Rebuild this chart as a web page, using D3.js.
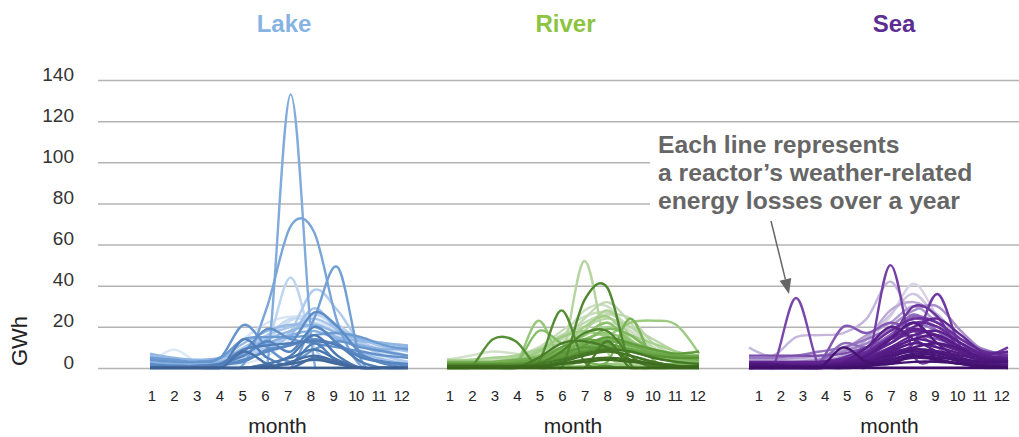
<!DOCTYPE html>
<html>
<head>
<meta charset="utf-8">
<script src="https://cdn.jsdelivr.net/npm/d3@7"></script>
<style>
  body { margin: 0; background: #fff; }
  svg { display: block; font-family: "Liberation Sans", Arial, Helvetica, sans-serif; }
</style>
</head>
<body>
<svg id="chart" width="1019" height="437"></svg>
<script>
// ---- data: monthly weather-related energy losses (GWh), one row per reactor ----
const months = [1, 2, 3, 4, 5, 6, 7, 8, 9, 10, 11, 12];
const yTicks = [0, 20, 40, 60, 80, 100, 120, 140];
const panelNames = ["Lake", "River", "Sea"];
const axisTitleX = "month";
const axisTitleY = "GWh";
const noteLines = ["Each line represents", "a reactor’s weather-related", "energy losses over a year"];

// reactors cooled by lake water (ordered light to dark)
const lakeSeries = [
  [2, 9, 3, 1, 2, 6, 14, 22, 16, 9, 5, 3],
  [1, 1, 2, 4, 14, 22, 25, 24, 18, 11, 7, 5],
  [0, 0, 1, 2, 6, 14, 23, 26, 20, 12, 6, 3],
  [3, 2, 2, 3, 8, 16, 24, 22, 17, 12, 9, 6],
  [0, 0, 0, 1, 5, 12, 44, 10, 2, 0, 0, 0],
  [4, 3, 2, 3, 6, 11, 17, 26, 21, 13, 8, 5],
  [1, 1, 1, 2, 5, 10, 18, 38, 28, 12, 6, 3],
  [5, 3, 2, 4, 10, 16, 20, 24, 19, 14, 10, 8],
  [2, 1, 1, 2, 4, 9, 16, 29, 18, 8, 4, 2],
  [6, 4, 3, 5, 12, 18, 21, 20, 15, 13, 12, 10],
  [7, 5, 4, 5, 9, 14, 18, 21, 17, 14, 12, 11],
  [3, 2, 2, 3, 7, 12, 16, 18, 14, 11, 9, 10],
  [0, 0, 0, 0, 0, 2, 133, 3, 0, 0, 0, 0],
  [0, 0, 0, 0, 2, 30, 69, 66, 22, 1, 0, 0],
  [0, 0, 0, 0, 0, 0, 0, 24, 49, 4, 0, 0],
  [5, 4, 3, 5, 14, 15, 15, 16, 17, 15, 11, 9],
  [4, 3, 3, 5, 21, 10, 3, 9, 13, 10, 8, 6],
  [1, 1, 1, 2, 8, 19, 14, 12, 10, 8, 6, 5],
  [2, 1, 1, 2, 3, 9, 12, 27, 20, 7, 3, 1],
  [0, 0, 0, 1, 4, 8, 11, 14, 11, 6, 2, 0],
  [1, 1, 1, 2, 6, 13, 8, 20, 12, 5, 3, 2],
  [0, 0, 0, 0, 14, 5, 2, 12, 3, 0, 0, 0],
  [0, 0, 0, 2, 9, 11, 12, 13, 11, 3, 0, 0],
  [0, 0, 0, 0, 0, 2, 6, 16, 6, 0, 0, 0],
  [0, 0, 0, 0, 0, 2, 5, 9, 4, 0, 0, 0],
  [0, 0, 0, 0, 8, 2, 0, 5, 2, 0, 0, 0],
  [0, 0, 0, 0, 0, 0, 3, 6, 3, 0, 0, 0],
  [0, 0, 0, 0, 0, 1, 2, 4, 2, 0, 0, 0],
  [0, 0, 0, 0, 0, 0, 0, 0, 0, 0, 0, 0],
  [0, 0, 0, 0, 0, 0, 0, 0, 0, 0, 0, 0]
];

// reactors cooled by river water (ordered light to dark)
const riverSeries = [
  [4, 6, 8, 7, 6, 10, 16, 22, 18, 10, 6, 4],
  [2, 2, 3, 4, 8, 15, 28, 30, 18, 8, 5, 3],
  [3, 3, 4, 6, 10, 18, 25, 27, 20, 10, 6, 4],
  [1, 1, 2, 3, 6, 12, 24, 32, 22, 10, 4, 2],
  [2, 2, 2, 4, 7, 14, 22, 26, 24, 12, 6, 3],
  [3, 3, 3, 5, 9, 16, 20, 24, 20, 14, 8, 5],
  [1, 1, 1, 2, 3, 5, 52, 8, 2, 1, 1, 1],
  [2, 2, 3, 5, 8, 12, 18, 28, 16, 9, 5, 3],
  [4, 4, 5, 6, 9, 12, 16, 20, 16, 12, 8, 6],
  [1, 1, 2, 3, 5, 10, 20, 25, 14, 6, 3, 2],
  [2, 2, 2, 3, 8, 15, 18, 16, 22, 23, 21, 7],
  [0, 0, 0, 2, 23, 3, 1, 2, 1, 0, 0, 0],
  [3, 3, 3, 4, 6, 9, 14, 17, 13, 9, 7, 5],
  [2, 2, 2, 3, 6, 10, 16, 22, 13, 8, 6, 4],
  [1, 1, 1, 2, 18, 12, 8, 14, 10, 6, 4, 3],
  [2, 2, 2, 3, 5, 9, 13, 19, 16, 8, 4, 2],
  [0, 0, 0, 0, 0, 1, 3, 3, 24, 4, 2, 1],
  [3, 3, 3, 4, 5, 8, 12, 14, 12, 8, 6, 5],
  [1, 1, 2, 2, 4, 7, 10, 13, 11, 7, 5, 4],
  [2, 2, 2, 3, 4, 6, 9, 11, 9, 7, 6, 6],
  [0, 0, 0, 1, 4, 10, 14, 12, 9, 5, 3, 2],
  [1, 1, 1, 2, 3, 6, 11, 15, 12, 9, 7, 8],
  [0, 0, 0, 0, 2, 7, 10, 9, 6, 3, 1, 0],
  [2, 2, 2, 2, 3, 5, 8, 10, 8, 6, 5, 5],
  [0, 0, 14, 13, 0, 0, 0, 0, 0, 0, 0, 0],
  [0, 0, 0, 0, 3, 28, 3, 1, 0, 0, 0, 0],
  [0, 0, 0, 0, 0, 0, 33, 39, 2, 0, 0, 0],
  [0, 0, 0, 0, 2, 8, 17, 18, 6, 0, 0, 0],
  [0, 0, 0, 0, 0, 0, 0, 13, 0, 0, 0, 0],
  [0, 0, 0, 0, 5, 12, 13, 10, 4, 1, 0, 0],
  [1, 1, 1, 1, 2, 4, 7, 9, 8, 5, 3, 2],
  [0, 0, 0, 0, 1, 3, 6, 8, 6, 3, 1, 0],
  [0, 0, 0, 0, 0, 2, 4, 5, 4, 2, 0, 0],
  [1, 1, 1, 1, 1, 2, 3, 4, 3, 2, 1, 1],
  [0, 0, 0, 0, 0, 0, 0, 0, 0, 0, 0, 0],
  [0, 0, 0, 0, 0, 0, 0, 0, 0, 0, 0, 0]
];

// reactors cooled by sea water (ordered light to dark)
const seaSeries = [
  [2, 2, 3, 3, 5, 12, 25, 41, 25, 10, 5, 3],
  [3, 3, 4, 5, 8, 15, 26, 36, 24, 12, 6, 4],
  [10, 6, 15, 16, 17, 24, 42, 22, 12, 6, 4, 3],
  [2, 2, 3, 4, 6, 14, 28, 32, 26, 14, 7, 4],
  [4, 4, 5, 6, 9, 16, 22, 30, 22, 12, 7, 5],
  [1, 1, 2, 3, 5, 10, 20, 28, 30, 18, 8, 3],
  [3, 3, 3, 4, 8, 12, 18, 24, 20, 14, 9, 6],
  [5, 5, 6, 8, 10, 14, 19, 22, 18, 12, 8, 6],
  [2, 2, 2, 3, 12, 10, 16, 26, 18, 10, 5, 3],
  [1, 1, 1, 2, 4, 9, 16, 25, 22, 12, 5, 2],
  [2, 2, 2, 3, 20, 17, 22, 18, 10, 4, 2, 1],
  [6, 6, 6, 6, 7, 10, 14, 16, 14, 10, 8, 7],
  [0, 0, 34, 0, 0, 0, 0, 0, 0, 0, 0, 0],
  [0, 0, 0, 0, 0, 2, 50, 6, 4, 2, 1, 1],
  [0, 0, 0, 0, 1, 3, 8, 12, 36, 10, 6, 10],
  [0, 0, 0, 0, 1, 5, 14, 30, 25, 8, 3, 1],
  [2, 2, 2, 3, 5, 10, 18, 24, 22, 14, 8, 6],
  [1, 1, 1, 2, 4, 8, 15, 22, 20, 12, 6, 4],
  [0, 0, 0, 1, 3, 7, 14, 20, 24, 16, 7, 3],
  [3, 3, 3, 3, 4, 7, 12, 18, 16, 10, 7, 8],
  [1, 1, 1, 1, 3, 6, 12, 19, 15, 9, 5, 3],
  [0, 0, 0, 0, 2, 5, 10, 16, 18, 12, 6, 2],
  [2, 2, 2, 2, 3, 5, 9, 14, 12, 8, 6, 5],
  [0, 0, 0, 1, 3, 10, 20, 14, 8, 4, 2, 1],
  [0, 0, 0, 0, 1, 4, 9, 14, 16, 10, 4, 1],
  [1, 1, 1, 1, 2, 4, 8, 12, 10, 7, 5, 4],
  [0, 0, 0, 0, 2, 6, 14, 22, 12, 4, 1, 0],
  [0, 0, 0, 0, 1, 3, 7, 10, 12, 9, 4, 1],
  [0, 0, 0, 0, 0, 2, 5, 9, 8, 5, 2, 0],
  [2, 2, 1, 1, 2, 3, 6, 9, 8, 6, 4, 3],
  [0, 0, 0, 0, 1, 3, 6, 8, 7, 4, 2, 1],
  [0, 0, 0, 0, 0, 1, 4, 7, 6, 3, 1, 0],
  [1, 1, 1, 1, 1, 2, 4, 6, 5, 4, 3, 3],
  [0, 0, 0, 0, 0, 1, 3, 5, 4, 2, 1, 0],
  [0, 0, 0, 0, 10, 3, 2, 6, 4, 2, 0, 0],
  [0, 0, 0, 0, 0, 1, 2, 3, 3, 2, 1, 0],
  [0, 0, 0, 0, 0, 0, 0, 0, 0, 0, 0, 0],
  [0, 0, 0, 0, 0, 0, 0, 0, 0, 0, 0, 0]
];

// ---- layout ----
const W = 1019, H = 437;
const gridLeft = 98;
const svg = d3.select("#chart");

const y = d3.scaleLinear().domain([0, 140]).range([368, 80]);

const panels = [
  { name: panelNames[0], series: lakeSeries,
    lineRange: [150, 408], labelRange: [151, 401], titleX: 284, monthX: 277.5,
    titleColor: "#86b3e3",
    palette: ["#dde9f7", "#b2cdee", "#82addf", "#5b8cc8", "#4d7bb6", "#3c5f8f"] },
  { name: panelNames[1], series: riverSeries,
    lineRange: [447, 699], labelRange: [449, 697], titleX: 565.5, monthX: 573,
    titleColor: "#8cc43f",
    palette: ["#d2e0ca", "#b0d598", "#86bf65", "#5e9c3b", "#4a8029", "#3a661c"] },
  { name: panelNames[2], series: seaSeries,
    lineRange: [749, 1008], labelRange: [758, 1001], titleX: 894, monthX: 889.5,
    titleColor: "#5c2e91",
    palette: ["#d9d2e7", "#8d6bbd", "#6a2d9c", "#5a1f8a", "#4d177d", "#3f0f6a"] }
];

// ---- gridlines and value labels ----
const yAxis = d3.axisLeft(y)
  .tickValues(yTicks)
  .tickSize(-(W - gridLeft))
  .tickPadding(24);
const gy = svg.append("g")
  .attr("transform", `translate(${gridLeft},0)`)
  .call(yAxis)
  .attr("font-family", null)
  .attr("font-size", 19);
gy.select(".domain").remove();
gy.selectAll(".tick line").attr("stroke", "#b4b4b4").attr("stroke-width", 1.5);
gy.selectAll(".tick text").attr("fill", "#333").attr("y", -6);

svg.append("text")
  .attr("transform", "translate(27,341) rotate(-90)")
  .attr("text-anchor", "middle")
  .attr("font-size", 22)
  .attr("fill", "#222")
  .text(axisTitleY);

// ---- annotation backdrop (hides gridlines behind the note) ----
svg.append("rect")
  .attr("x", 650).attr("y", 128)
  .attr("width", W - 650).attr("height", 88)
  .attr("fill", "#fff");

// ---- panels ----
const defs = svg.append("defs");

panels.forEach((p, pi) => {
  const x = d3.scaleLinear().domain([1, 12]).range(p.lineRange);
  const xLab = d3.scalePoint().domain(months).range(p.labelRange);
  const color = d3.interpolateRgbBasis(p.palette);
  const n = p.series.length;

  const clipId = `clip-${pi}`;
  defs.append("clipPath").attr("id", clipId)
    .append("rect")
    .attr("x", p.lineRange[0] - 4).attr("y", 0)
    .attr("width", p.lineRange[1] - p.lineRange[0] + 8)
    .attr("height", y(0) + 1.2);

  const line = d3.line()
    .x((d, i) => x(months[i]))
    .y(d => y(d))
    .curve(d3.curveCardinal);

  svg.append("g")
    .attr("clip-path", `url(#${clipId})`)
    .selectAll("path")
    .data(p.series)
    .join("path")
    .attr("d", line)
    .attr("fill", "none")
    .attr("stroke", (d, i) => color(n > 1 ? i / (n - 1) : 0))
    .attr("stroke-width", 2.4)
    .attr("stroke-linejoin", "round")
    .attr("stroke-linecap", "butt");

  // month ticks
  const gx = svg.append("g")
    .attr("transform", "translate(0,390)")
    .call(d3.axisBottom(xLab).tickSize(0).tickPadding(0))
    .attr("font-family", null)
    .attr("font-size", 15);
  gx.select(".domain").remove();
  gx.selectAll(".tick text").attr("fill", "#222").attr("letter-spacing", -0.6);

  svg.append("text")
    .attr("x", p.monthX).attr("y", 433)
    .attr("text-anchor", "middle")
    .attr("font-size", 21)
    .attr("fill", "#222")
    .text(axisTitleX);

  svg.append("text")
    .attr("x", p.titleX).attr("y", 32)
    .attr("text-anchor", "middle")
    .attr("font-size", 24)
    .attr("font-weight", "bold")
    .attr("fill", p.titleColor)
    .text(p.name);
});

// ---- note with pointer ----
svg.append("text")
  .attr("font-size", 24.7)
  .attr("font-weight", "bold")
  .attr("fill", "#666")
  .selectAll("tspan")
  .data(noteLines)
  .join("tspan")
  .attr("x", 658)
  .attr("y", (d, i) => 153 + i * 28)
  .text(d => d);

const from = [771, 221], tip = [789, 294];
const len = Math.hypot(tip[0] - from[0], tip[1] - from[1]);
const ux = (tip[0] - from[0]) / len, uy = (tip[1] - from[1]) / len;
const headL = 15, headW = 6;
const base = [tip[0] - ux * headL, tip[1] - uy * headL];
svg.append("line")
  .attr("x1", from[0]).attr("y1", from[1])
  .attr("x2", base[0]).attr("y2", base[1])
  .attr("stroke", "#666").attr("stroke-width", 1.5);
svg.append("path")
  .attr("d", `M${tip[0]},${tip[1]}L${base[0] + uy * headW},${base[1] - ux * headW}L${base[0] - uy * headW},${base[1] + ux * headW}Z`)
  .attr("fill", "#666");
</script>
</body>
</html>
